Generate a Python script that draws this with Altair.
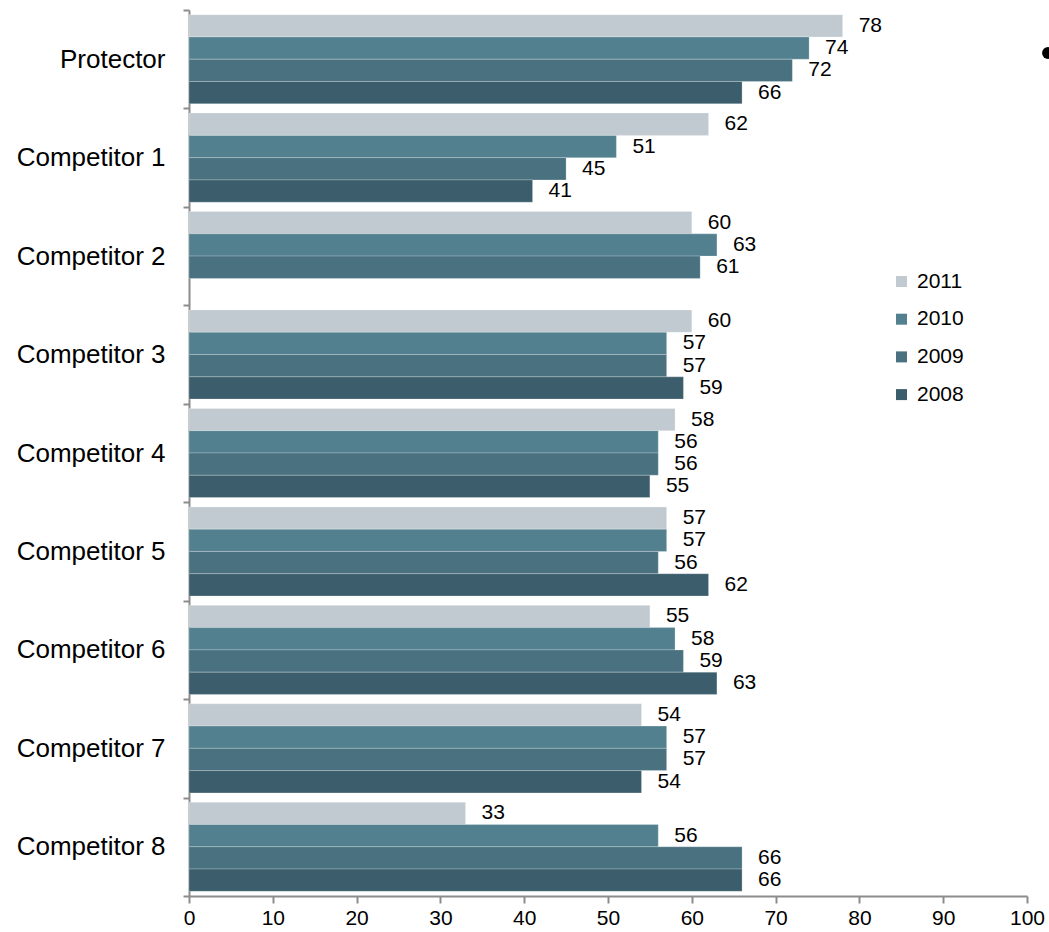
import altair as alt
import pandas as pd

# Survey scores by brand and year
categories = ["Protector", "Competitor 1", "Competitor 2", "Competitor 3", "Competitor 4",
              "Competitor 5", "Competitor 6", "Competitor 7", "Competitor 8"]
years = ["2011", "2010", "2009", "2008"]
v2011 = [78, 62, 60, 60, 58, 57, 55, 54, 33]
v2010 = [74, 51, 63, 57, 56, 57, 58, 57, 56]
v2009 = [72, 45, 61, 57, 56, 56, 59, 57, 66]
v2008 = [66, 41, None, 59, 55, 62, 63, 54, 66]
colors = ["#c0cad0", "#52808f", "#49717f", "#3c5e6c"]
x_ticks = [0, 10, 20, 30, 40, 50, 60, 70, 80, 90, 100]

rows = []
for year, vals in zip(years, [v2011, v2010, v2009, v2008]):
    for cat, v in zip(categories, vals):
        if v is not None:
            rows.append({"Brand": cat, "Year": year, "Score": v})
df = pd.DataFrame(rows)

FONT = "Liberation Sans"
W, H = 838, 886

base = alt.Chart(df).encode(
    y=alt.Y("Brand:N", sort=categories, title=None,
            scale=alt.Scale(paddingInner=0, paddingOuter=0),
            axis=alt.Axis(tickBand="extent", labelFontSize=26, labelFont=FONT,
                          labelColor="#000000", labelPadding=18, tickSize=6,
                          domainColor="#8c8c8c", tickColor="#8c8c8c",
                          domainWidth=2, tickWidth=2, grid=False)),
    yOffset=alt.YOffset("Year:N", sort=years,
                        scale=alt.Scale(paddingInner=0, paddingOuter=0.21)),
)

bars = base.mark_bar(stroke="#ffffff", strokeWidth=0.8, strokeOpacity=0.3).encode(
    x=alt.X("Score:Q", title=None,
            scale=alt.Scale(domain=[0, 100], nice=False),
            axis=alt.Axis(values=x_ticks, labelFontSize=21, labelFont=FONT,
                          labelColor="#000000", tickSize=7, labelPadding=4,
                          labelFlush=False, labelOverlap=False,
                          domainColor="#8c8c8c", tickColor="#8c8c8c",
                          domainWidth=2, tickWidth=2, grid=False)),
    color=alt.Color("Year:N", sort=years,
                    scale=alt.Scale(domain=years, range=colors),
                    legend=alt.Legend(title=None, orient="none", legendX=702, legendY=261,
                                      symbolType="square", symbolSize=121,
                                      symbolStrokeWidth=0, labelFontSize=21,
                                      labelFont=FONT, labelColor="#000000",
                                      labelOffset=5, rowPadding=15.7)),
)

labels = base.mark_text(align="left", baseline="middle", dx=16, fontSize=21,
                        font=FONT, color="#000000").encode(
    x=alt.X("Score:Q"),
    text=alt.Text("Score:Q"),
)

bullet = alt.Chart(pd.DataFrame({"t": ["•"]})).mark_circle(
    color="#000000", opacity=1, size=140
).encode(x=alt.value(859), y=alt.value(43))

chart = alt.layer(bars, labels, bullet).properties(
    width=W, height=H,
    autosize=alt.AutoSizeParams(type="none"),
    padding={"left": 189, "top": 10, "right": 22, "bottom": 36},
).configure(background="#ffffff").configure_view(stroke=None)

chart.save("out.html", embed_options={"renderer": "svg", "actions": False})
